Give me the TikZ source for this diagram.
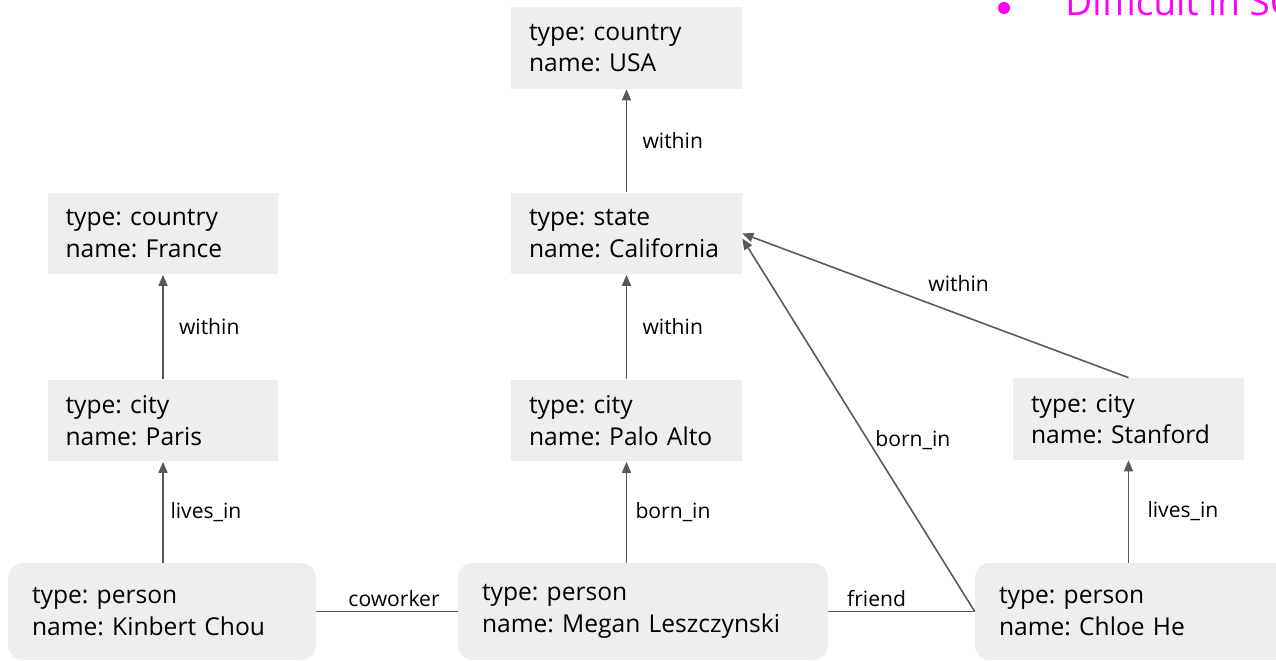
\documentclass[tikz,border=0pt]{standalone}
\usepackage{fontspec}
\setmainfont{Open Sans}
\usetikzlibrary{arrows.meta,positioning}
\frenchspacing

\definecolor{boxgray}{HTML}{EEEEEE}
\definecolor{edgegray}{HTML}{595959}
\definecolor{hilite}{HTML}{FF00FF}

\tikzset{
  entity/.style={fill=boxgray, minimum width=4.62cm, minimum height=1.64cm,
    inner xsep=0.36cm, text width=3.9cm, align=left,
    font=\fontsize{14}{18}\selectfont},
  person/.style={entity, rounded corners=0.3cm, minimum height=1.94cm,
    inner xsep=0.48cm},
  rel/.style={draw=edgegray, line width=0.9pt,
    -{Triangle[length=2.2mm,width=1.8mm]}},
  tie/.style={draw=edgegray, line width=0.9pt},
  lbl/.style={font=\fontsize{12}{14}\selectfont, inner sep=1pt}
}

\begin{document}
\begin{tikzpicture}[x=0.02cm, y=-0.02cm]
  \clip (0,0) rectangle (1276,661);

  % places
  \node[entity] (usa) at (626.5,48) {type: country\\name: USA};
  \node[entity] (california) at (626.5,233.5) {type: state\\name: California};
  \node[entity] (france) at (163,233.5) {type: country\\name: France};
  \node[entity] (paris) at (163,420.5) {type: city\\name: Paris};
  \node[entity] (paloalto) at (626.5,420.5) {type: city\\name: Palo Alto};
  \node[entity] (stanford) at (1128.5,419) {type: city\\name: Stanford};

  % people
  \node[person, text width=5.2cm] (kinbert) at (162,611.5) {type: person\\name: Kinbert Chou};
  \node[person, text width=6.44cm] (megan) at (643,611.5) {type: person\\name: Megan Leszczynski};
  \node[person, text width=5.34cm] (chloe) at (1132.5,611.5) {type: person\\name: Chloe He};

  % location edges
  \draw[rel] (paris) -- node[lbl, right=0.27cm] {within} (france);
  \draw[rel] (california) -- node[lbl, right=0.27cm] {within} (usa);
  \draw[rel] (paloalto) -- node[lbl, right=0.27cm] {within} (california);
  \draw[rel] (stanford.north) -- node[lbl, pos=0.44, above=0.4cm] {within} (california.east);

  % person edges
  \draw[rel] (paris |- kinbert.north) -- node[lbl, right=0.1cm] {lives\_in} (paris);
  \draw[rel] (paloalto |- megan.north) -- node[lbl, right=0.13cm] {born\_in} (paloalto);
  \draw[rel] (stanford |- chloe.north) -- node[lbl, right=0.33cm] {lives\_in} (stanford);
  \draw[rel] (chloe.west) -- node[lbl, pos=0.46, right=0.1cm] {born\_in} ([yshift=-0.1cm]california.east);
  \draw[tie] (kinbert) -- node[lbl, pos=0.55, above=0.05cm] {coworker} (megan);
  \draw[tie] (megan) -- node[lbl, pos=0.33, above=0.05cm] {friend} (chloe);

  % slide bullet
  \node[circle, fill=hilite, inner sep=0pt, minimum size=0.24cm] (dot) at (1004,8) {};
  \node[anchor=base west, inner sep=0pt, text=hilite,
    font=\fontsize{21}{24}\selectfont] (gist) at (1065,16) {Difficult in SQL};
\end{tikzpicture}
\end{document}
